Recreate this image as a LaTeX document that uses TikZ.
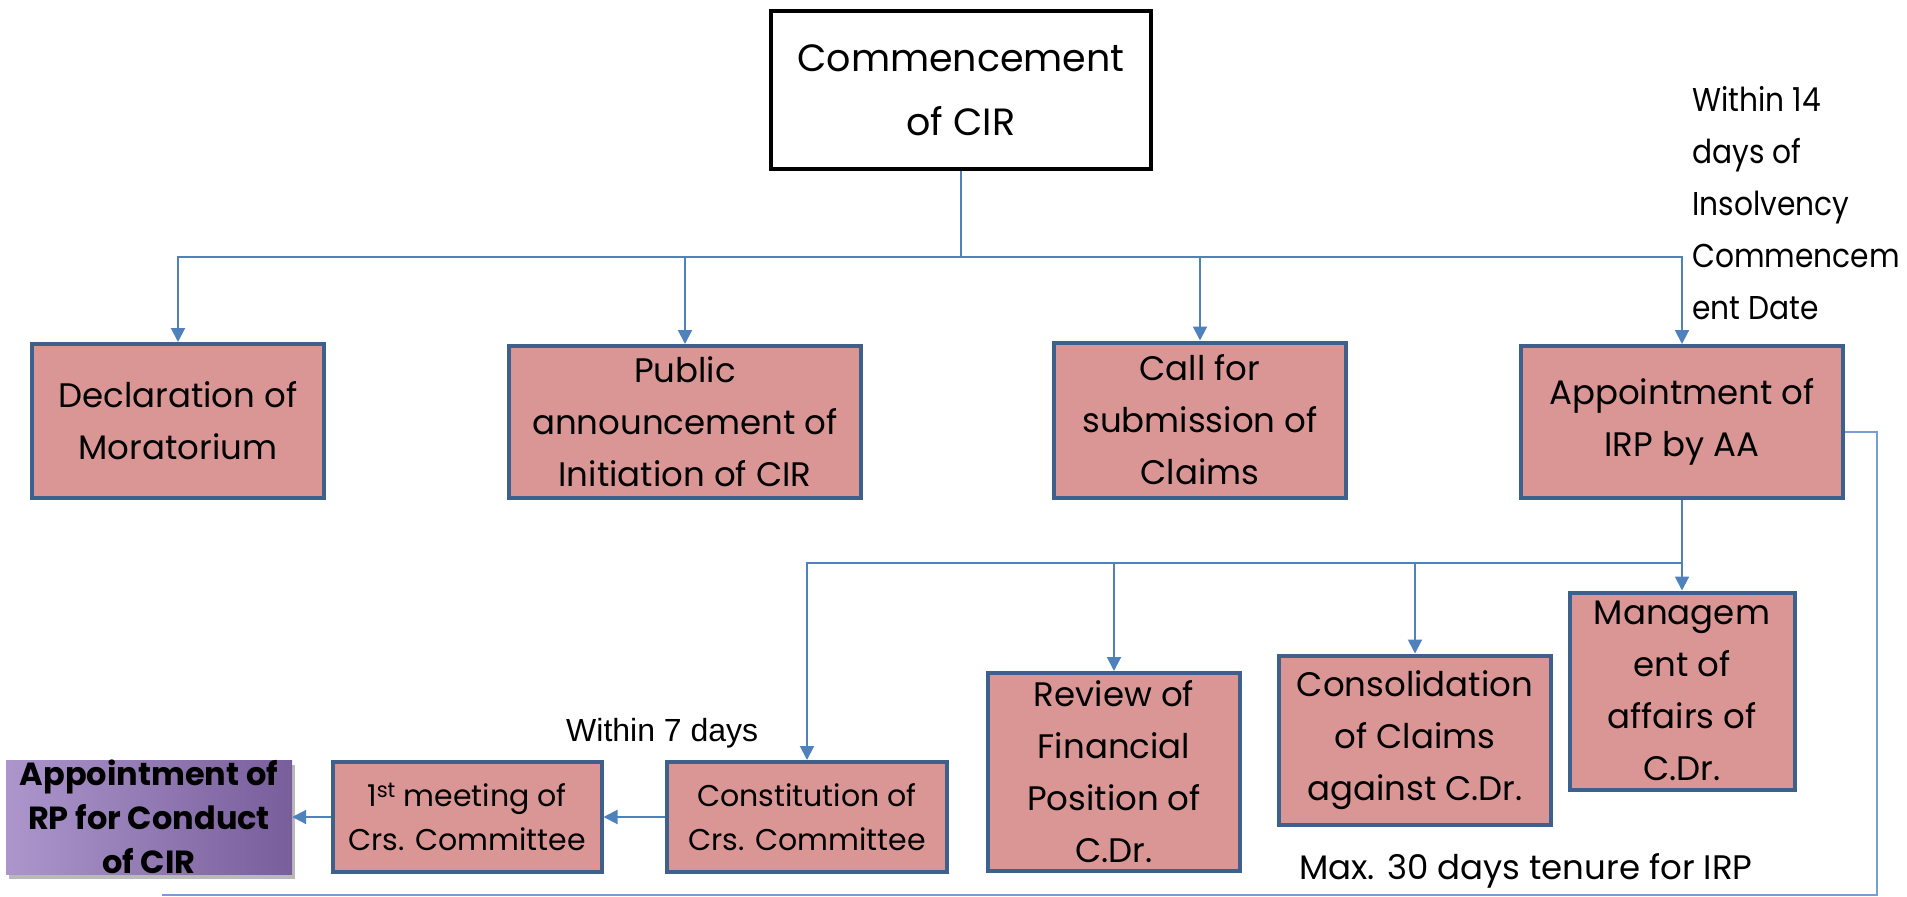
\documentclass[tikz,border=0pt]{standalone}
\usepackage{fontspec}
\setmainfont{Poppins}
\newfontfamily\arialfont{Liberation Sans}
\newfontfamily\narrowfont[FakeStretch=0.9]{Poppins}
\usetikzlibrary{arrows.meta,shadows}

\definecolor{boxpink}{RGB}{218,150,148}
\definecolor{boxedge}{RGB}{62,96,140}
\definecolor{linkblue}{RGB}{79,129,189}
\definecolor{tenureblue}{RGB}{118,158,210}
\definecolor{rplight}{RGB}{172,150,204}
\definecolor{rpdark}{RGB}{120,94,155}

\begin{document}
\begin{tikzpicture}[x=1pt,y=-1pt,
  stage/.style={draw=boxedge,fill=boxpink,line width=4pt,align=center,inner sep=0pt,
    font=\fontsize{34}{52}\selectfont},
  minor/.style={font=\fontsize{30}{44}\selectfont},
  start/.style={draw=black,fill=white,line width=3.5pt,align=center,inner sep=0pt,
    font=\fontsize{38}{64}\selectfont},
  rpbox/.style={left color=rplight,right color=rpdark,align=center,inner sep=0pt,
    drop shadow={shadow xshift=3pt,shadow yshift=-5pt,opacity=0.55},
    font=\bfseries\fontsize{32}{44}\selectfont},
  note/.style={align=left,inner sep=0pt,font=\fontsize{34}{52}\selectfont},
  link/.style={draw=linkblue,line width=2pt,-{Triangle[length=14pt,width=14pt]}},
  tenure/.style={draw=tenureblue,line width=2pt}]

  \useasboundingbox (0,0) rectangle (1907,897);

  \node [start,minimum width=380pt,minimum height=158pt] (cir) at (961,90) {Commencement\\of CIR};

  % first level
  \node [stage,minimum width=292pt,minimum height=154pt] (mora) at (178,421) {Declaration of\\Moratorium};
  \node [stage,minimum width=352pt,minimum height=152pt] (public) at (685,422) {Public\\announcement of\\Initiation of CIR};
  \node [stage,minimum width=292pt,minimum height=155pt] (claims) at (1200,420) {Call for\\submission of\\Claims};
  \node [stage,minimum width=322pt,minimum height=152pt] (irp) at (1682,422) {Appointment of\\IRP by AA};

  % duties of the IRP
  \node [stage,minimum width=225pt,minimum height=197pt] (manage) at (1682,691) {Managem\\ent of\\affairs of\\C.Dr.};
  \node [stage,minimum width=272pt,minimum height=169pt] (consol) at (1415,740) {Consolidation\\of Claims\\against C.Dr.};
  \node [stage,minimum width=252pt,minimum height=198pt] (review) at (1114,772) {Review of\\Financial\\Position of\\C.Dr.};
  \node [stage,minor,minimum width=280pt,minimum height=110pt] (constit) at (807,817) {Constitution of\\Crs. Committee};
  \node [stage,minor,minimum width=269pt,minimum height=110pt] (meeting) at (467,817) {1\textsuperscript{st} meeting of\\Crs. Committee};
  \node [rpbox,minimum width=286pt,minimum height=114pt] (rp) at (149,817) {Appointment of\\RP for Conduct\\of CIR};

  \node [note,anchor=north west,font=\narrowfont\fontsize{33}{52}\selectfont] (within14) at (1692,86) {Within 14\\days of\\Insolvency\\Commencem\\ent Date};
  \node [note,anchor=west] (tenurelbl) at (1299,871) {Max. 30 days tenure for IRP};
  \node [anchor=west,inner sep=0pt,font=\arialfont\fontsize{32}{38}\selectfont] (within7) at (566,733) {Within 7 days};

  \coordinate (busA) at (0,257);
  \coordinate (busB) at (0,563);
  \coordinate (tenR) at (1877,895);
  \coordinate (tenL) at (162,895);

  \foreach \n in {mora,public,claims,irp}
    \draw [link] (cir.south) -- (cir.south |- busA) -| (\n.north);
  \foreach \n in {constit,review,consol,manage}
    \draw [link] (irp.south) -- (irp.south |- busB) -| (\n.north);

  \draw [link] (constit.west) -- (meeting.east);
  \draw [link] (meeting.west) -- (rp.east);

  \draw [tenure] ([yshift=-10pt]irp.east) -| (tenR) -- (tenL);

\end{tikzpicture}
\end{document}
